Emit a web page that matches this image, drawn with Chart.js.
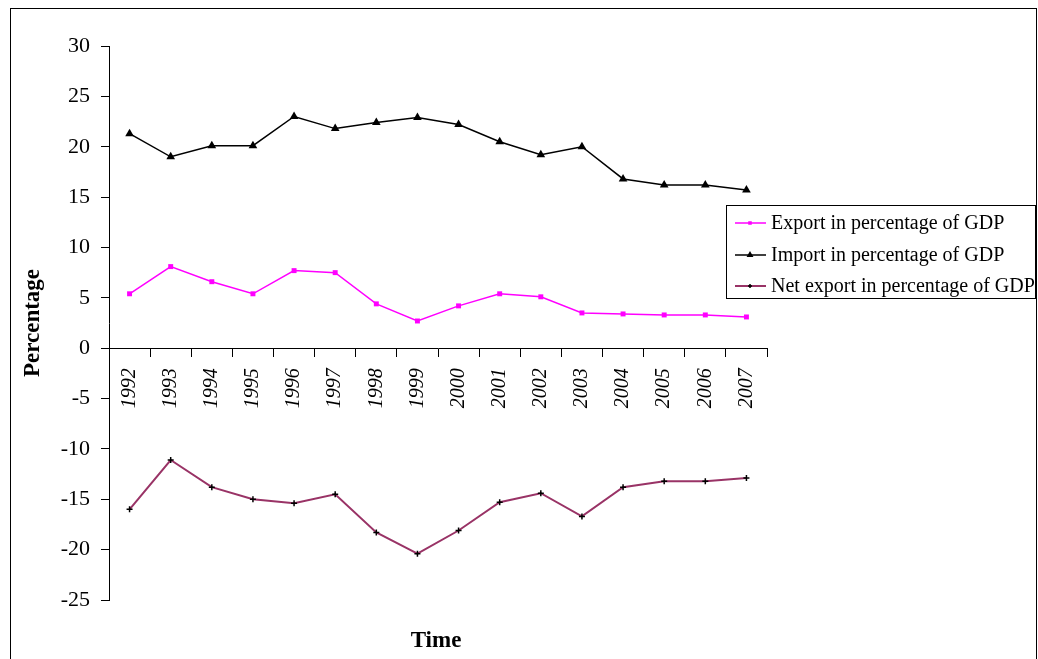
<!DOCTYPE html>
<html>
<head>
<meta charset="utf-8">
<script src="https://cdn.jsdelivr.net/npm/chart.js@4.4.1/dist/chart.umd.min.js"></script>
<style>
  body { margin: 0; background: #fff; }
  #myChart { display: block; }
</style>
</head>
<body>
<canvas id="myChart" width="1038" height="659"></canvas>
<script>
var years = ["1992", "1993", "1994", "1995", "1996", "1997", "1998", "1999",
             "2000", "2001", "2002", "2003", "2004", "2005", "2006", "2007"];
var exportPct = [5.4, 8.1, 6.6, 5.4, 7.7, 7.5, 4.4, 2.7, 4.2, 5.4, 5.1, 3.5, 3.4, 3.3, 3.3, 3.1];
var importPct = [21.3, 19.0, 20.1, 20.1, 23.0, 21.8, 22.4, 22.9, 22.2, 20.5, 19.2, 20.0, 16.8, 16.2, 16.2, 15.7];
var netPct = [-16.0, -11.1, -13.8, -15.0, -15.4, -14.5, -18.3, -20.4, -18.1, -15.3, -14.4, -16.7, -13.8, -13.2, -13.2, -12.9];
var seriesNames = ["Export in percentage of GDP", "Import in percentage of GDP", "Net export in percentage of GDP"];

var serif = "'Liberation Serif', 'Times New Roman', serif";

// border round the picture, legend box and the "Time" title
var framePlugin = {
  id: 'frame',
  beforeDraw: function (chart) {
    var ctx = chart.ctx;
    ctx.save();
    ctx.fillStyle = '#fff';
    ctx.fillRect(0, 0, chart.width, chart.height);
    ctx.strokeStyle = '#000';
    ctx.lineWidth = 1;
    ctx.strokeRect(10.5, 8.5, 1026, 670);
    ctx.restore();
  },
  afterDraw: function (chart) {
    var ctx = chart.ctx;
    ctx.save();
    ctx.fillStyle = '#000';
    ctx.font = "bold 23px " + serif;
    ctx.textAlign = 'center';
    ctx.textBaseline = 'middle';
    ctx.fillText("Time", 436, 641);

    // legend
    ctx.strokeStyle = '#000';
    ctx.lineWidth = 1;
    ctx.strokeRect(726.5, 205.5, 309, 93);
    var rowsY = [223, 255, 286];
    ctx.font = "20px " + serif;
    ctx.textAlign = 'left';
    chart.data.datasets.forEach(function (ds, i) {
      var y = rowsY[i];
      ctx.strokeStyle = ds.borderColor;
      ctx.lineWidth = ds.borderWidth;
      ctx.beginPath();
      ctx.moveTo(735, y);
      ctx.lineTo(766, y);
      ctx.stroke();
      ctx.fillStyle = ds.pointBackgroundColor;
      ctx.strokeStyle = ds.pointBorderColor || ds.pointBackgroundColor;
      ctx.lineWidth = ds.pointBorderWidth;
      Chart.helpers.drawPoint(ctx, {
        pointStyle: ds.pointStyle,
        radius: ds.pointRadius - 1,
        borderWidth: ds.pointBorderWidth
      }, 750, y);
      ctx.fillStyle = '#000';
      ctx.fillText(ds.label, 771, y + 1);
    });
    ctx.restore();
  }
};

new Chart("myChart", {
  type: 'line',
  data: {
    labels: years,
    datasets: [{
      label: seriesNames[0],
      data: exportPct,
      borderColor: '#ff00ff',
      backgroundColor: '#ff00ff',
      borderWidth: 1.5,
      pointStyle: 'rect',
      pointRadius: 3.5,
      pointBorderWidth: 0,
      pointBackgroundColor: '#ff00ff',
      tension: 0
    }, {
      label: seriesNames[1],
      data: importPct,
      borderColor: '#000000',
      backgroundColor: '#000000',
      borderWidth: 1.5,
      pointStyle: 'triangle',
      pointRadius: 5,
      pointBorderWidth: 0,
      pointBackgroundColor: '#000000',
      tension: 0
    }, {
      label: seriesNames[2],
      data: netPct,
      borderColor: '#993366',
      backgroundColor: '#000000',
      borderWidth: 2,
      pointStyle: 'cross',
      pointRadius: 3,
      pointBorderWidth: 1.5,
      pointBorderColor: '#000000',
      pointBackgroundColor: '#000000',
      tension: 0
    }]
  },
  options: {
    responsive: false,
    animation: false,
    layout: { padding: { left: 15, top: 46, right: 271, bottom: 59 } },
    plugins: {
      legend: { display: false },
      tooltip: { enabled: false }
    },
    scales: {
      x: {
        position: { y: 0 },
        offset: true,
        grid: {
          display: true,
          offset: true,
          drawOnChartArea: false,
          drawTicks: true,
          tickLength: 8,
          color: '#000'
        },
        border: { display: true, color: '#000', width: 1 },
        ticks: {
          color: '#000',
          font: { family: serif, size: 20, style: 'italic' },
          minRotation: 90,
          maxRotation: 90,
          autoSkip: false,
          padding: 12
        }
      },
      y: {
        min: -25,
        max: 30,
        afterFit: function (scale) { scale.width = 94; },
        grid: {
          display: true,
          drawOnChartArea: false,
          drawTicks: true,
          tickLength: 8,
          color: '#000'
        },
        border: { display: true, color: '#000', width: 1 },
        ticks: {
          stepSize: 5,
          color: '#000',
          padding: 11,
          font: { family: serif, size: 22 }
        },
        title: {
          display: true,
          text: 'Percentage',
          color: '#000',
          padding: { top: 4, bottom: 0 },
          font: { family: serif, size: 23, weight: 'bold' }
        }
      }
    }
  },
  plugins: [framePlugin]
});
</script>
</body>
</html>
